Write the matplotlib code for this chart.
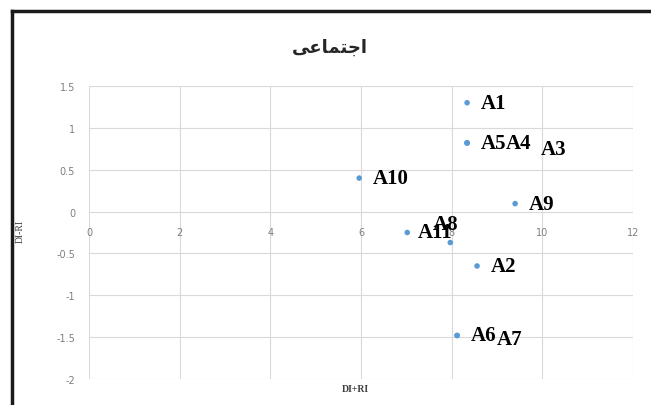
import matplotlib
matplotlib.use("Agg")
import matplotlib.pyplot as plt
from matplotlib.lines import Line2D

# Data
labels = ["A1", "A2", "A3", "A4", "A5", "A6", "A7", "A8", "A9", "A10", "A11"]
x_vals = [8.34, 8.56, 8.34, 8.34, 8.34, 8.12, 8.12, 7.97, 9.40, 5.96, 7.02]
y_vals = [1.30, -0.65, 0.82, 0.82, 0.82, -1.48, -1.48, -0.37, 0.095, 0.40, -0.25]
x_ticks = [0, 2, 4, 6, 8, 10, 12]
y_ticks = [-2, -1.5, -1, -0.5, 0, 0.5, 1, 1.5]
# title "اجتماعی" written with Arabic presentation forms for correct joined display
title_text = "\uFBFD\uFECB\uFE8E\uFEE4\uFE98\uFE9F\uFE8D"

# label offsets in pixels (Excel moved overlapping labels)
label_offsets = {
    "A1": (14, 0), "A2": (14, 0), "A3": (74, -6), "A4": (39, 0), "A5": (14, 0),
    "A6": (14, 0), "A7": (40, -4), "A8": (-18, 19), "A9": (14, 0),
    "A10": (14, 0), "A11": (11, 0),
}

fig = plt.figure(figsize=(6.51, 4.06), dpi=100)
ax = fig.add_axes([89/651, 1-380/406, (633-89)/651, (380-87)/406])

ax.scatter(x_vals, y_vals, s=16, color="#5B9BD5", zorder=3, edgecolors="none")

for lab, xv, yv in zip(labels, x_vals, y_vals):
    dx, dy = label_offsets[lab]
    ax.annotate(lab, (xv, yv), xytext=(dx, dy), textcoords="offset pixels",
                ha="left", va="center", fontsize=15, fontweight="bold",
                family="Liberation Serif", color="black", zorder=4)

ax.set_xlim(0, 12)
ax.set_ylim(-2, 1.5)
ax.set_xticks(x_ticks)
ax.set_yticks(y_ticks)
ax.set_xticklabels([f"{t:g}" for t in x_ticks])
ax.set_yticklabels([f"{t:g}" for t in y_ticks])
ax.grid(True, color="#D9D9D9", linewidth=0.8)
ax.set_axisbelow(True)
for s in ax.spines.values():
    s.set_visible(False)
ax.spines["bottom"].set_position(("data", 0))
ax.tick_params(axis="both", length=0, labelsize=7, labelcolor="#7F7F7F")
ax.tick_params(axis="x", pad=11)
ax.tick_params(axis="y", pad=10)

fig.text(355/651, 1-390/406, "DI+RI", ha="center", va="center", fontsize=7,
         fontweight="bold", family="Liberation Serif", color="#404040")
fig.text(20/651, 1-232/406, "DI-RI", ha="center", va="center", fontsize=7,
         rotation=90, family="Liberation Serif", color="#404040")
fig.text(330/651, 1-48/406, title_text, ha="center", va="center", fontsize=13,
         fontweight="bold", family="DejaVu Sans", color="#262626")

# outer chart frame (left and top edges visible)
fig.add_artist(Line2D([12/651, 12/651], [0, 1-12/406], transform=fig.transFigure,
                      color="#1a1a1a", linewidth=2.5))
fig.add_artist(Line2D([12/651, 1], [1-12/406, 1-12/406], transform=fig.transFigure,
                      color="#1a1a1a", linewidth=2.5))

fig.savefig("out.png", dpi=100)
